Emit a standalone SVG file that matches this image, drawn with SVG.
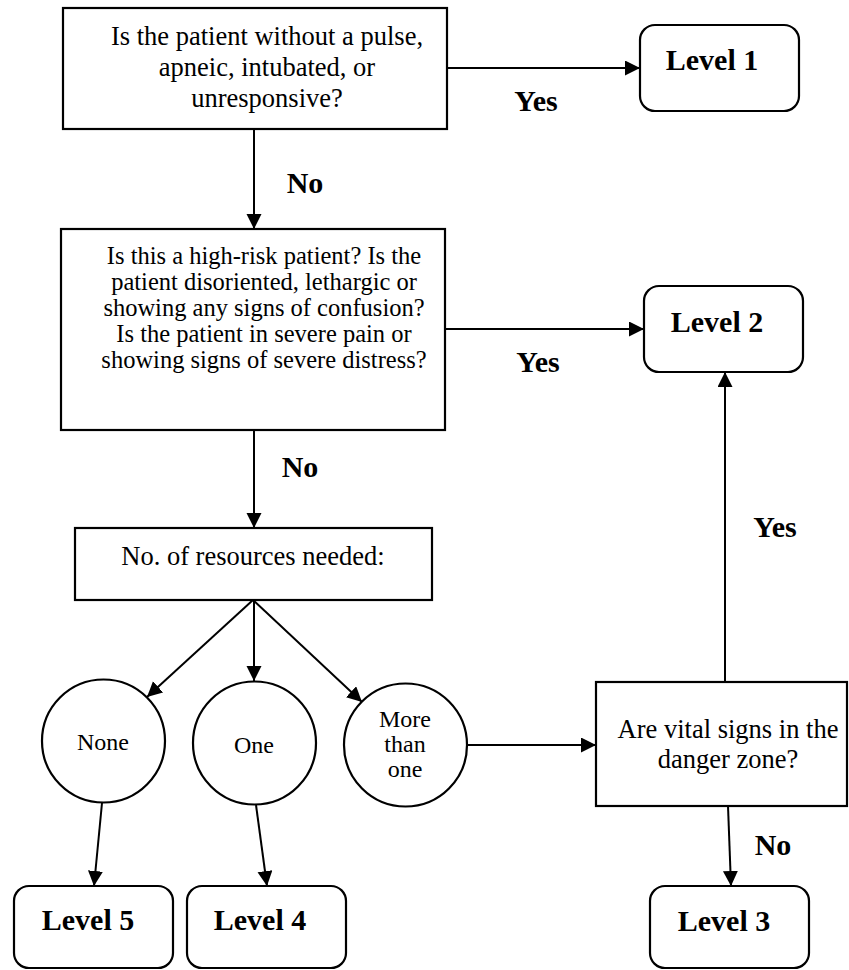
<svg xmlns="http://www.w3.org/2000/svg" width="849" height="970" viewBox="0 0 849 970">
<style>
.box{fill:#fff;stroke:#000;stroke-width:2.2}
.lvl{fill:#fff;stroke:#000;stroke-width:2.2}
text{font-family:'Liberation Serif','Tinos','Times New Roman','DejaVu Serif',serif;fill:#000;text-anchor:middle}
.t{font-size:26.5px}
.t3{font-size:24.5px}
.t2{font-size:24px}
.b{font-size:30px;font-weight:bold}
.c{fill:none;stroke:#000;stroke-width:2}
</style>
<defs>
<marker id="ah" markerUnits="userSpaceOnUse" markerWidth="16" markerHeight="16" refX="15" refY="7.5" orient="auto">
<path d="M0,0 L15,7.5 L0,15 Z" fill="#000"/>
</marker>
</defs>
<g id="connectors">
<path class="c" d="M447,68 L640,68" marker-end="url(#ah)"/>
<path class="c" d="M254,129 L254,229" marker-end="url(#ah)"/>
<path class="c" d="M445,329 L644,329" marker-end="url(#ah)"/>
<path class="c" d="M254,430 L254,528" marker-end="url(#ah)"/>
<path class="c" d="M253,600 L147,697" marker-end="url(#ah)"/>
<path class="c" d="M254,600 L254,681" marker-end="url(#ah)"/>
<path class="c" d="M253,600 L362,702" marker-end="url(#ah)"/>
<path class="c" d="M102,803 L94,886" marker-end="url(#ah)"/>
<path class="c" d="M256,805 L267,886" marker-end="url(#ah)"/>
<path class="c" d="M467,745 L596,745" marker-end="url(#ah)"/>
<path class="c" d="M728,806 L731,886" marker-end="url(#ah)"/>
<path class="c" d="M725,682 L725,372" marker-end="url(#ah)"/>
<text class="b" x="536" y="111">Yes</text>
<text class="b" x="305" y="193">No</text>
<text class="b" x="538" y="372">Yes</text>
<text class="b" x="300" y="477">No</text>
<text class="b" x="775" y="537">Yes</text>
<text class="b" x="773" y="855">No</text>
</g>
<g id="q1">
<rect class="box" x="63" y="8" width="384" height="121"/>
<text class="t" x="267" y="45">Is the patient without a pulse,</text>
<text class="t" x="267" y="76">apneic, intubated, or</text>
<text class="t" x="267" y="107">unresponsive?</text>
</g>
<g id="level1">
<rect class="lvl" x="640" y="25" width="159" height="86" rx="15"/>
<text class="b" x="712" y="70">Level 1</text>
</g>
<g id="q2">
<rect class="box" x="61" y="229" width="384" height="201"/>
<text class="t3" x="264" y="264">Is this a high-risk patient? Is the</text>
<text class="t3" x="264" y="290">patient disoriented, lethargic or</text>
<text class="t3" x="264" y="316">showing any signs of confusion?</text>
<text class="t3" x="264" y="342">Is the patient in severe pain or</text>
<text class="t3" x="264" y="368">showing signs of severe distress?</text>
</g>
<g id="level2">
<rect class="lvl" x="644" y="286" width="159" height="86" rx="15"/>
<text class="b" x="717" y="332">Level 2</text>
</g>
<g id="q3">
<rect class="box" x="75" y="528" width="357" height="72"/>
<text class="t" x="253" y="565">No. of resources needed:</text>
</g>
<g id="none">
<circle class="box" cx="103.5" cy="741" r="61.5"/>
<text class="t2" x="103" y="750">None</text>
</g>
<g id="one">
<circle class="box" cx="254.5" cy="743" r="61.5"/>
<text class="t2" x="254" y="753">One</text>
</g>
<g id="more">
<circle class="box" cx="405.5" cy="745" r="61.5"/>
<text class="t2" x="405" y="727">More</text>
<text class="t2" x="405" y="752">than</text>
<text class="t2" x="405" y="777">one</text>
</g>
<g id="vital">
<rect class="box" x="596" y="682" width="251" height="124"/>
<text class="t" x="728" y="738">Are vital signs in the</text>
<text class="t" x="728" y="768">danger zone?</text>
</g>
<g id="level3">
<rect class="lvl" x="650" y="886" width="159" height="82" rx="15"/>
<text class="b" x="724" y="931">Level 3</text>
</g>
<g id="level5">
<rect class="lvl" x="14" y="886" width="159" height="82" rx="15"/>
<text class="b" x="88" y="930">Level 5</text>
</g>
<g id="level4">
<rect class="lvl" x="187" y="886" width="159" height="82" rx="15"/>
<text class="b" x="260" y="930">Level 4</text>
</g>
</svg>
